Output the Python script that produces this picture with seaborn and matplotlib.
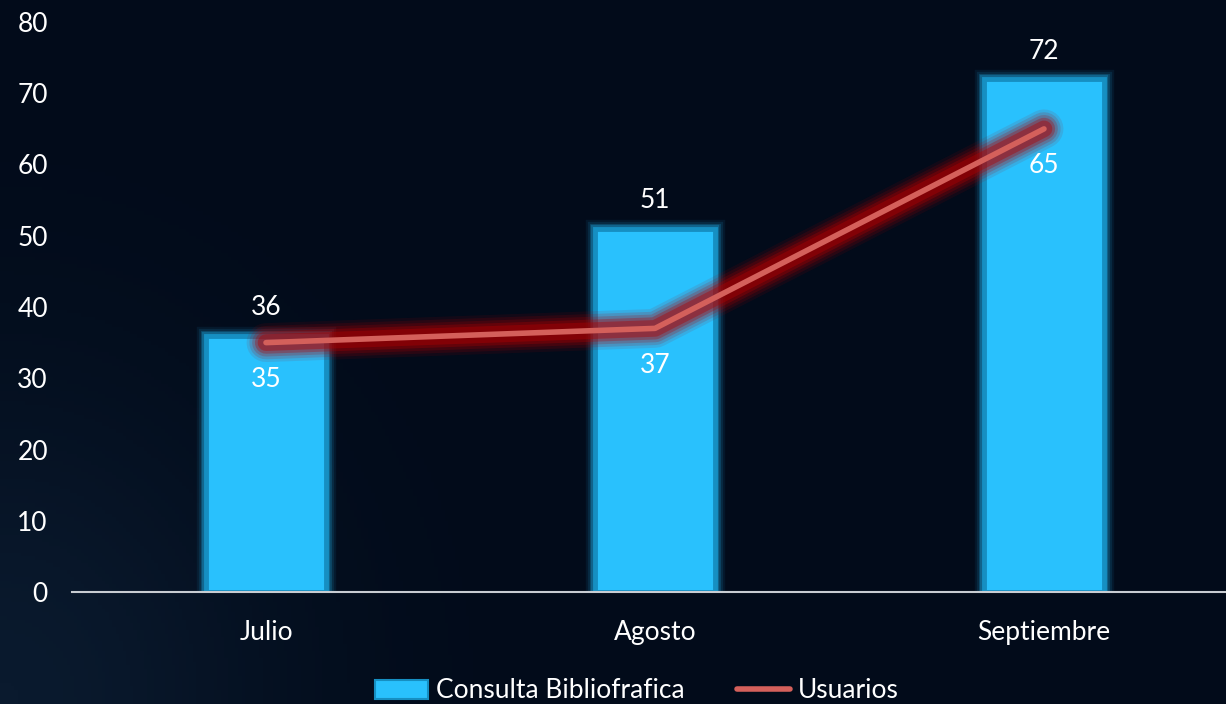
import numpy as np
import pandas as pd
import seaborn as sns
import matplotlib.pyplot as plt
import matplotlib.patheffects as pe
from matplotlib.lines import Line2D
from matplotlib.patches import Patch

months = ['Julio', 'Agosto', 'Septiembre']
consultas = [36, 51, 72]
usuarios = [35, 37, 65]

bg = '#020b1a'
bar_color = '#29c1fd'
line_color = '#d4605b'

sns.set_style('white')
plt.rcParams['font.family'] = ['Lato', 'DejaVu Sans']
fs = 19

fig = plt.figure(figsize=(12.26, 7.04), dpi=100, facecolor=bg)
# faint lighter haze in the lower-left corner
yy, xx = np.mgrid[0:1:200j, 0:1:350j]
haze = np.exp(-(xx ** 2 / 0.05 + yy ** 2 / 0.2))
bg_ax = fig.add_axes([0, 0, 1, 1], zorder=-5)
bg_ax.imshow(haze, cmap=sns.blend_palette([bg, '#0a1a2e'], as_cmap=True),
             origin='lower', aspect='auto', extent=[0, 1, 0, 1], vmin=0, vmax=1)
bg_ax.axis('off')

ax = fig.add_axes([71.5 / 1226, 112 / 704, 1167 / 1226, 570 / 704])
ax.set_facecolor('none')

df = pd.DataFrame({'mes': months, 'consultas': consultas, 'usuarios': usuarios})

sns.barplot(data=df, x='mes', y='consultas', color=bar_color, width=0.31,
            saturation=1, ax=ax, zorder=2)
bar_glow = [pe.Stroke(linewidth=w, foreground='#1fb0ea', alpha=a)
            for w, a in [(14, 0.08), (11, 0.12), (8, 0.2), (6, 0.3)]]
for bar in ax.patches:
    bar.set_edgecolor('#168fc2')
    bar.set_linewidth(3.5)
    bar.set_path_effects(bar_glow + [pe.Normal()])

line_glow = [pe.Stroke(linewidth=w, foreground='#b00000', alpha=a)
             for w, a in [(28, 0.1), (24, 0.15), (20, 0.2), (16, 0.3), (12, 0.4)]]
sns.lineplot(data=df, x='mes', y='usuarios', sort=False, color=line_color,
             linewidth=4, ax=ax, zorder=3, solid_capstyle='round',
             path_effects=line_glow + [pe.Normal()])

for i, v in enumerate(consultas):
    ax.text(i, v + 3.9, str(v), ha='center', va='center', color='white', fontsize=fs)
for i, v in enumerate(usuarios):
    ax.text(i, v - 5.2, str(v), ha='center', va='center', color='white', fontsize=fs)

ax.set_xlim(-0.5, 2.5)
ax.set_ylim(0, 80)
ax.set_yticks(range(0, 81, 10))
ax.set_xlabel('')
ax.set_ylabel('')
for s in ['top', 'right', 'left']:
    ax.spines[s].set_visible(False)
ax.spines['bottom'].set_color('#c8ccd2')
ax.spines['bottom'].set_linewidth(1.5)
ax.spines['bottom'].set_zorder(4)
ax.tick_params(axis='y', colors='white', labelsize=fs, length=0, pad=17)
ax.tick_params(axis='x', colors='white', labelsize=fs, length=0, pad=20)

handles = [Patch(facecolor=bar_color, edgecolor='#168fc2', linewidth=1.5),
           Line2D([0], [0], color=line_color, linewidth=4)]
fig.legend(handles, ['Consulta Bibliofrafica', 'Usuarios'], loc='center',
           bbox_to_anchor=(637 / 1226, 13 / 704), ncol=2, frameon=False,
           fontsize=fs, labelcolor='white', handlelength=2.0,
           handletextpad=0.3, columnspacing=2.0)

fig.savefig('out.png', dpi=100, facecolor=bg)
